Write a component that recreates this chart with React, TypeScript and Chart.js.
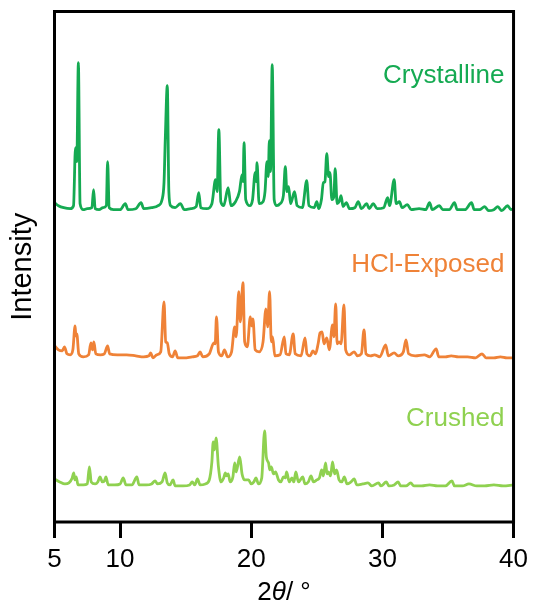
import { useEffect, useRef } from "react";
import { Chart, registerables } from "chart.js";

Chart.register(...registerables);

// Stacked powder X-ray diffraction scans, [2θ (°), intensity (a.u., offset)]
const seriesNames = ["Crystalline", "HCl-Exposed", "Crushed"];
const seriesColors = ["#15aa52", "#ef8237", "#8fd150"];
const xTickValues = [5, 10, 20, 30, 40];

const crystalline: [number, number][] = [
  [5.0, 319], [5.3, 316], [5.7, 314], [6.2, 313], [6.45, 316], [6.6, 374], [6.7, 360],
  [6.82, 459], [6.95, 318], [7.2, 312], [7.5, 313], [7.85, 314], [7.98, 332], [8.1, 313],
  [8.4, 312], [8.7, 314], [8.95, 316], [9.05, 360], [9.17, 314], [9.5, 312], [10.0, 312],
  [10.4, 318], [10.6, 312], [11.2, 313], [11.6, 319], [11.8, 313], [12.4, 314], [12.9, 316],
  [13.2, 322], [13.35, 339], [13.45, 384], [13.6, 436], [13.72, 330], [13.85, 316],
  [14.2, 314], [14.6, 318], [14.9, 312], [15.4, 313], [15.8, 315], [16.0, 329], [16.15, 314],
  [16.6, 313], [17.0, 318], [17.28, 342], [17.4, 330], [17.53, 392], [17.68, 320],
  [17.9, 316], [18.24, 334], [18.45, 316], [18.8, 320], [19.1, 330], [19.3, 347],
  [19.38, 340], [19.45, 379], [19.58, 322], [19.9, 316], [20.1, 322], [20.3, 349],
  [20.38, 340], [20.44, 359], [20.6, 318], [20.9, 320], [21.05, 330], [21.2, 360],
  [21.3, 345], [21.38, 381], [21.47, 350], [21.6, 457], [21.75, 322], [21.95, 316],
  [22.2, 318], [22.45, 326], [22.6, 355], [22.72, 330], [22.85, 335], [23.0, 318],
  [23.3, 330], [23.5, 316], [23.9, 314], [24.23, 341], [24.4, 316], [24.8, 314], [25.0, 320],
  [25.15, 313], [25.35, 322], [25.5, 339], [25.62, 340], [25.76, 368], [25.9, 345],
  [26.0, 349], [26.15, 322], [26.3, 325], [26.4, 353], [26.55, 318], [26.7, 320],
  [26.85, 326], [27.0, 315], [27.25, 319], [27.5, 313], [27.9, 314], [28.16, 320],
  [28.4, 313], [28.8, 318], [29.0, 313], [29.3, 318], [29.6, 313], [30.1, 314], [30.4, 324],
  [30.55, 316], [30.9, 342], [31.05, 318], [31.3, 320], [31.5, 314], [31.9, 317], [32.2, 312],
  [32.8, 313], [33.3, 312], [33.6, 319], [33.8, 312], [34.35, 316], [34.6, 312], [35.1, 312],
  [35.5, 319], [35.7, 312], [36.3, 312], [36.8, 319], [37.0, 312], [37.4, 312], [37.8, 315],
  [38.1, 311], [38.5, 312], [38.8, 315], [39.1, 311], [39.55, 316], [39.8, 312], [40.0, 313],
];

const hclExposed: [number, number][] = [
  [5.0, 176], [5.3, 172], [5.6, 171], [5.76, 175], [5.95, 168], [6.2, 167], [6.4, 172],
  [6.57, 196], [6.63, 186], [6.7, 188], [6.85, 168], [7.2, 165], [7.6, 167], [7.78, 179],
  [7.9, 172], [8.0, 180], [8.15, 168], [8.5, 167], [8.8, 168], [9.05, 176], [9.2, 168],
  [9.8, 167], [10.5, 167], [11.2, 166], [11.8, 165], [12.2, 166], [12.34, 169], [12.5, 164],
  [12.8, 167], [13.1, 170], [13.35, 220], [13.48, 180], [13.6, 179], [13.75, 168],
  [14.0, 165], [14.2, 171], [14.4, 164], [14.9, 164], [15.5, 165], [15.9, 166], [16.1, 170],
  [16.3, 165], [16.8, 168], [17.15, 179], [17.25, 178], [17.35, 205], [17.5, 170],
  [17.75, 166], [17.96, 172], [18.2, 165], [18.5, 170], [18.74, 195], [18.85, 185],
  [19.05, 230], [19.17, 200], [19.37, 239], [19.5, 180], [19.7, 175], [19.93, 205],
  [20.03, 196], [20.13, 203], [20.3, 172], [20.6, 170], [20.9, 180], [21.12, 213],
  [21.25, 195], [21.4, 230], [21.53, 180], [21.63, 185], [21.8, 166], [22.2, 167],
  [22.52, 185], [22.65, 168], [22.9, 167], [23.2, 188], [23.35, 168], [23.8, 166],
  [24.1, 184], [24.25, 168], [24.5, 166], [24.7, 171], [24.9, 168], [25.1, 178],
  [25.25, 189], [25.4, 190], [25.55, 178], [25.76, 184], [25.95, 172], [26.2, 197],
  [26.3, 185], [26.44, 218], [26.55, 178], [26.7, 180], [26.85, 178], [27.07, 217],
  [27.2, 172], [27.5, 167], [27.85, 170], [28.1, 166], [28.4, 168], [28.6, 192], [28.75, 168],
  [29.1, 166], [29.4, 167], [29.8, 165], [30.25, 177], [30.45, 166], [30.9, 169], [31.2, 166],
  [31.6, 170], [31.8, 182], [32.0, 168], [32.5, 166], [33.2, 167], [33.6, 165], [34.1, 173],
  [34.3, 165], [34.8, 165], [35.25, 166], [35.8, 165], [36.5, 165], [37.1, 164], [37.6, 168],
  [37.9, 164], [38.5, 164], [39.0, 165], [39.5, 164], [40.0, 164],
];

const crushed: [number, number][] = [
  [5.0, 43], [5.4, 40], [5.8, 38], [6.1, 39], [6.35, 44], [6.47, 49], [6.55, 42], [6.65, 45],
  [6.8, 37], [7.2, 37], [7.5, 38], [7.66, 55], [7.8, 40], [8.1, 38], [8.3, 40], [8.47, 45],
  [8.65, 40], [8.8, 41], [8.92, 45], [9.1, 37], [9.6, 37], [10.0, 38], [10.24, 44],
  [10.45, 37], [10.9, 37], [11.28, 45], [11.45, 37], [12.0, 37], [12.4, 38], [12.67, 41],
  [12.85, 38], [13.2, 40], [13.43, 49], [13.6, 39], [13.8, 37], [14.04, 42], [14.2, 36],
  [14.8, 36], [15.3, 37], [15.5, 40], [15.7, 37], [15.9, 43], [16.1, 37], [16.5, 38],
  [16.8, 42], [17.0, 60], [17.1, 80], [17.2, 72], [17.32, 84], [17.5, 55], [17.7, 40],
  [17.9, 44], [18.03, 49], [18.12, 46], [18.24, 48], [18.4, 40], [18.6, 45], [18.74, 59],
  [18.85, 50], [19.12, 65], [19.3, 48], [19.5, 42], [19.8, 42], [20.0, 38], [20.2, 40],
  [20.36, 44], [20.55, 38], [20.8, 44], [21.02, 91], [21.15, 65], [21.32, 59], [21.42, 52],
  [21.53, 55], [21.7, 48], [21.85, 50], [22.08, 42], [22.25, 40], [22.46, 45], [22.6, 44],
  [22.7, 50], [22.9, 40], [23.1, 44], [23.25, 40], [23.4, 50], [23.6, 40], [23.93, 45],
  [24.1, 38], [24.35, 40], [24.56, 46], [24.74, 40], [25.0, 42], [25.2, 44], [25.37, 52],
  [25.5, 46], [25.67, 59], [25.78, 48], [25.88, 50], [26.05, 46], [26.2, 60], [26.35, 48],
  [26.5, 52], [26.7, 42], [26.9, 40], [27.1, 45], [27.3, 38], [27.6, 40], [27.85, 43],
  [28.05, 37], [28.5, 38], [28.9, 39], [29.2, 36], [29.7, 39], [29.9, 36], [30.3, 40],
  [30.5, 36], [30.9, 37], [31.2, 40], [31.4, 36], [31.8, 36], [32.16, 39], [32.4, 36],
  [33.0, 36], [33.6, 37], [34.2, 36], [34.8, 36], [35.3, 41], [35.5, 36], [36.1, 36],
  [36.6, 38], [37.2, 36], [37.8, 36], [38.5, 37], [39.2, 36], [40.0, 37],
];

const scans = [crystalline, hclExposed, crushed];

const FONT = "'Liberation Sans', Arial, Helvetica, sans-serif";

export default function App() {
  const canvasRef = useRef<HTMLCanvasElement>(null);

  useEffect(() => {
    const canvas = canvasRef.current;
    if (!canvas) return;

    // Closed black frame around the plotting area
    const framePlugin = {
      id: "frame",
      afterDatasetsDraw(chart: any) {
        const { ctx, chartArea } = chart;
        const { left, top, right, bottom } = chartArea;
        ctx.save();
        ctx.strokeStyle = "#000";
        ctx.lineWidth = 3;
        ctx.strokeRect(left, top, right - left, bottom - top);
        ctx.restore();
      },
    };

    // Trace names beside each scan, and the 2θ axis title with italic theta
    const labelPlugin = {
      id: "traceLabels",
      afterDraw(chart: any) {
        const { ctx, chartArea } = chart;
        const xs = chart.scales.x;
        const ys = chart.scales.y;
        const labelY = [439, 250, 96];
        ctx.save();
        ctx.font = `26px ${FONT}`;
        ctx.textAlign = "right";
        ctx.textBaseline = "alphabetic";
        seriesNames.forEach((name, i) => {
          ctx.fillStyle = seriesColors[i];
          ctx.fillText(name, xs.getPixelForValue(39.3), ys.getPixelForValue(labelY[i]));
        });

        const parts = [
          { t: "2", f: `26px ${FONT}` },
          { t: "\u03b8", f: `italic 26px ${FONT}` },
          { t: "/ \u00b0", f: `26px ${FONT}` },
        ];
        let total = 0;
        const widths = parts.map((p) => {
          ctx.font = p.f;
          const w = ctx.measureText(p.t).width;
          total += w;
          return w;
        });
        let x = (chartArea.left + chartArea.right) / 2 - total / 2;
        ctx.textAlign = "left";
        ctx.fillStyle = "#000";
        parts.forEach((p, i) => {
          ctx.font = p.f;
          ctx.fillText(p.t, x, 600);
          x += widths[i];
        });
        ctx.restore();
      },
    };

    const chart = new Chart(canvas, {
      type: "line",
      data: {
        datasets: scans.map((scan, i) => ({
          label: seriesNames[i],
          data: scan.map(([x, y]) => ({ x, y })),
          borderColor: seriesColors[i],
          borderWidth: 2.8,
          borderJoinStyle: "round" as const,
          pointRadius: 0,
          cubicInterpolationMode: "monotone" as const,
          fill: false,
        })),
      },
      options: {
        responsive: false,
        animation: false,
        devicePixelRatio: 1,
        layout: { padding: { top: 11.5, right: 18.5, left: 0, bottom: 0 } },
        plugins: {
          legend: { display: false },
          tooltip: { enabled: false },
        },
        scales: {
          x: {
            type: "linear",
            min: 5,
            max: 40,
            afterBuildTicks: (scale: any) => {
              scale.ticks = xTickValues.map((value) => ({ value }));
            },
            afterFit: (scale: any) => {
              scale.height = 83;
            },
            ticks: {
              color: "#000",
              font: { family: FONT, size: 26 },
              padding: 6,
              maxRotation: 0,
              autoSkip: false,
            },
            grid: {
              drawOnChartArea: false,
              drawTicks: true,
              tickLength: 16,
              lineWidth: 3,
              color: "#000",
            },
            border: { display: false },
          },
          y: {
            min: 0,
            max: 510,
            afterFit: (scale: any) => {
              scale.width = 54.5;
            },
            ticks: { display: false },
            grid: { display: false, drawTicks: false },
            border: { display: false },
            title: {
              display: true,
              text: "Intensity",
              color: "#000",
              font: { family: FONT, size: 29 },
              padding: { top: 6, bottom: 0 },
            },
          },
        },
      },
      plugins: [framePlugin, labelPlugin],
    });

    return () => chart.destroy();
  }, []);

  return (
    <div style={{ position: "fixed", left: 0, top: 0, width: 534, height: 605, background: "#fff" }}>
      <canvas ref={canvasRef} width={534} height={605} style={{ display: "block" }} />
    </div>
  );
}
